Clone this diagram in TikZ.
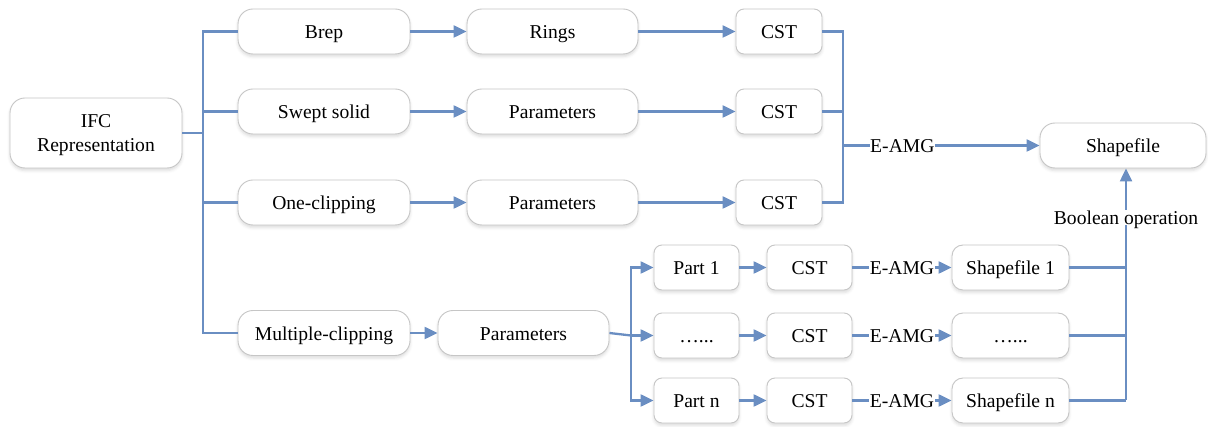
\documentclass[tikz,border=0pt]{standalone}
\usepackage{fontspec}
\setmainfont{Liberation Serif}
\usetikzlibrary{arrows.meta,shadows.blur}
\definecolor{flow}{RGB}{106,142,194}
\definecolor{boxline}{RGB}{198,198,198}
\tikzset{
  txt/.style={font=\fontsize{19.6}{24}\selectfont},
  box/.style={txt, draw=boxline, line width=0.9pt, fill=white, rounded corners=15pt,
    minimum height=45pt, inner sep=0pt, align=center, text height=15pt, text depth=0pt,
    blur shadow={shadow xshift=0pt, shadow yshift=-2.5pt, shadow blur radius=3pt, shadow opacity=14}},
  sbox/.style={box, rounded corners=8pt},
  link/.style={draw=flow, line width=2.3pt},
  arr/.style={link, -{Triangle[length=13pt,width=12pt]}},
  lbl/.style={txt, fill=white, inner sep=0.5pt, text height=13.5pt, text depth=0pt}
}
\begin{document}
\begin{tikzpicture}[x=1pt,y=-1pt]
\useasboundingbox (0,0) rectangle (1208,427);

% source
\node[box, minimum width=172pt, minimum height=70pt, text height=, text depth=-3.5pt] (ifc) at (96,133) {IFC\\Representation};

% geometry types
\node[box, minimum width=172pt] (brep)  at (324,31.5)  {Brep};
\node[box, minimum width=172pt] (swept) at (324,111.5) {Swept solid};
\node[box, minimum width=172pt] (one)   at (324,202.5) {One-clipping};
\node[box, minimum width=172pt] (multi) at (324,333)   {Multiple-clipping};

% intermediate data
\node[box, minimum width=171pt] (rings) at (552.5,31.5)  {Rings};
\node[box, minimum width=171pt] (par1)  at (552.5,111.5) {Parameters};
\node[box, minimum width=171pt] (par2)  at (552.5,202.5) {Parameters};
\node[box, minimum width=171pt] (par3)  at (523.5,333)   {Parameters};

% CST stage
\node[sbox, minimum width=86pt] (cst1) at (779,31.5)  {CST};
\node[sbox, minimum width=86pt] (cst2) at (779,111.5) {CST};
\node[sbox, minimum width=86pt] (cst3) at (779,202.5) {CST};

% result
\node[box, minimum width=166pt] (shp) at (1123,145.5) {Shapefile};

% multiple-clipping parts
\node[sbox, minimum width=85pt] (part1) at (696.5,267.5) {Part 1};
\node[sbox, minimum width=85pt] (partd) at (696.5,335.5) {\ldots...};
\node[sbox, minimum width=85pt] (partn) at (696.5,400.5) {Part n};
\node[sbox, minimum width=85pt] (cst4) at (809.5,267.5) {CST};
\node[sbox, minimum width=85pt] (cst5) at (809.5,335.5) {CST};
\node[sbox, minimum width=85pt] (cst6) at (809.5,400.5) {CST};
\node[box, rounded corners=11pt, minimum width=117pt] (shp1) at (1010.5,267.5) {Shapefile 1};
\node[box, rounded corners=11pt, minimum width=117pt] (shpd) at (1010.5,335.5) {\ldots...};
\node[box, rounded corners=11pt, minimum width=117pt] (shpn) at (1010.5,400.5) {Shapefile n};

% junction points
\coordinate (tk) at (203,133);
\coordinate (cj) at (843,145.5);
\coordinate (fk) at (631,335.5);
\coordinate (bb) at (1126,400.5);

% left trunk
\draw[link] (ifc.east) -- (tk);
\draw[link] (brep.west) -| (tk) |- (multi.west);
\draw[link] (tk |- swept.west) -- (swept.west);
\draw[link] (tk |- one.west) -- (one.west);

% upper rows
\draw[arr] (brep.east) -- (rings.west);
\draw[arr] (swept.east) -- (par1.west);
\draw[arr] (one.east) -- (par2.west);
\draw[arr] (rings.east) -- (cst1.west);
\draw[arr] (par1.east) -- (cst2.west);
\draw[arr] (par2.east) -- (cst3.west);
\draw[link] (cst1.east) -| (cj) |- (cst3.east);
\draw[link] (cst2.east) -| (cj);
\draw[arr] (cj) -- node[lbl, pos=0.302] {E-AMG} (shp.west);

% multiple-clipping branch
\draw[arr] (multi.east) -- (par3.west);
\draw[link] (par3.east) -- (fk);
\draw[arr] (fk) |- (part1.west);
\draw[arr] (fk) |- (partn.west);
\draw[arr] (fk) -- (partd.west);
\draw[arr] (part1.east) -- (cst4.west);
\draw[arr] (partd.east) -- (cst5.west);
\draw[arr] (partn.east) -- (cst6.west);
\draw[arr] (cst4.east) -- node[lbl] {E-AMG} (shp1.west);
\draw[arr] (cst5.east) -- node[lbl] {E-AMG} (shpd.west);
\draw[arr] (cst6.east) -- node[lbl] {E-AMG} (shpn.west);

% boolean merge
\draw[link] (shp1.east) -| (bb);
\draw[link] (shpd.east) -- (shpd.east -| bb);
\draw[link] (shpn.east) -- (bb);
\draw[arr] (bb) -- node[lbl, pos=0.789] {Boolean operation} (bb |- shp.south);
\end{tikzpicture}
\end{document}
